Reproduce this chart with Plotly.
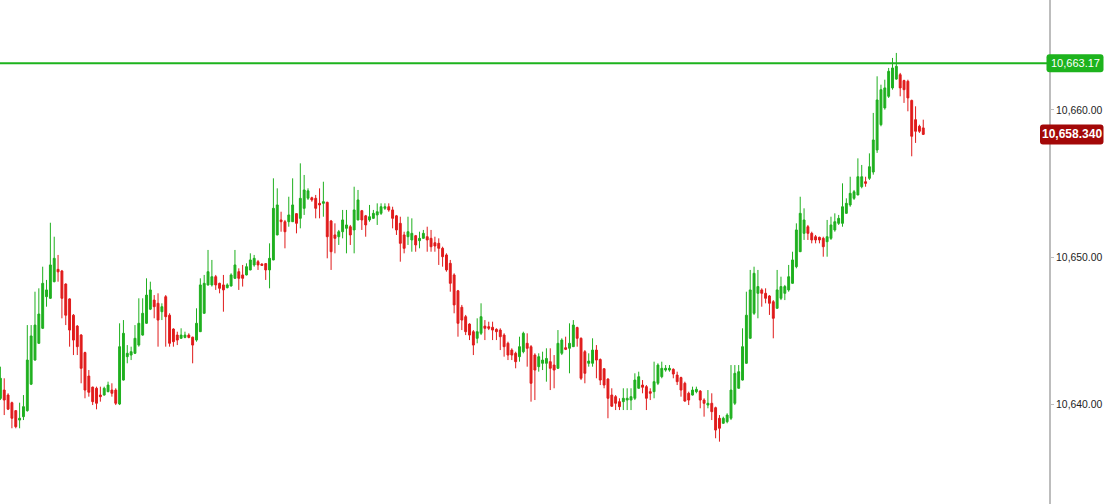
import plotly.graph_objects as go

# 캔들 데이터 (왼쪽부터 순서대로)
open_ = [
    10640.38, 10640.95, 10640.61, 10640.09, 10639.55, 10638.91, 10639.14, 10639.55, 10641.35, 10642.99,
    10644.13, 10645.15, 10647.30, 10647.19, 10648.32, 10649.16, 10649.05, 10648.16, 10647.15, 10646.04,
    10645.30, 10644.69, 10643.50, 10641.90, 10641.15, 10641.07, 10640.61, 10640.61, 10640.84, 10640.95,
    10640.95, 10640.00, 10641.63, 10643.22, 10643.33, 10643.45, 10644.01, 10644.69, 10645.49, 10646.45,
    10647.07, 10646.85, 10646.28, 10647.30, 10646.04, 10645.10, 10644.69, 10644.47, 10644.53, 10644.69,
    10644.55, 10644.35, 10644.92, 10646.17, 10648.10, 10648.10, 10648.66, 10648.21, 10648.10, 10647.91,
    10648.03, 10648.55, 10649.00, 10648.78, 10648.78, 10649.12, 10649.46, 10649.68, 10649.52, 10649.55,
    10649.12, 10649.80, 10651.50, 10652.52, 10652.40, 10652.40, 10652.40, 10652.95, 10652.63, 10653.31,
    10654.00, 10654.03, 10653.99, 10653.65, 10653.65, 10653.72, 10652.45, 10651.50, 10651.38, 10651.72,
    10651.95, 10652.06, 10651.84, 10652.52, 10653.15, 10652.80, 10652.52, 10652.63, 10652.86, 10652.97,
    10653.31, 10653.42, 10653.20, 10652.80, 10652.29, 10651.50, 10651.38, 10651.16, 10651.45, 10651.11,
    10651.27, 10651.38, 10651.27, 10650.97, 10650.93, 10650.59, 10650.14, 10649.57, 10648.78, 10647.70,
    10646.58, 10645.94, 10645.44, 10644.92, 10644.47, 10644.81, 10645.30, 10645.26, 10645.22, 10645.08,
    10645.03, 10644.69, 10644.13, 10643.67, 10643.45, 10643.22, 10643.56, 10644.13, 10643.90, 10643.33,
    10642.54, 10642.77, 10642.77, 10642.88, 10642.65, 10642.43, 10643.45, 10643.83, 10643.79, 10643.90,
    10645.20, 10644.47, 10643.56, 10642.77, 10642.77, 10643.67, 10643.03, 10642.40, 10641.70, 10640.61,
    10640.50, 10640.16, 10640.16, 10640.27, 10640.27, 10640.39, 10641.07, 10641.29, 10641.18, 10640.84,
    10640.84, 10641.41, 10641.86, 10642.31, 10642.31, 10642.36, 10641.97, 10641.80, 10641.41, 10640.73,
    10640.61, 10640.84, 10640.88, 10640.27, 10639.93, 10640.05, 10639.75, 10639.03, 10638.69, 10638.80,
    10639.03, 10640.05, 10641.07, 10641.63, 10642.77, 10644.47, 10646.17, 10647.53, 10647.76, 10647.53,
    10647.35, 10646.96, 10646.51, 10647.19, 10647.53, 10647.76, 10648.21, 10649.34, 10650.36, 10651.61,
    10652.06, 10651.61, 10651.38, 10651.34, 10651.27, 10651.04, 10651.27, 10651.84, 10652.29, 10652.29,
    10652.97, 10653.54, 10653.99, 10654.22, 10654.78, 10655.12, 10655.35, 10655.78, 10657.28, 10659.00,
    10660.14, 10660.93, 10661.50, 10662.10, 10662.40, 10662.00, 10661.95, 10660.65, 10659.34, 10658.89,
    10658.78,
]
high_ = [
    10642.54, 10641.75, 10640.73, 10640.16, 10639.59, 10640.09, 10640.61, 10645.37, 10645.37, 10647.64,
    10647.87, 10649.34, 10648.44, 10652.33, 10651.38, 10650.14, 10649.12, 10648.21, 10647.19, 10646.12,
    10645.37, 10644.76, 10643.56, 10642.31, 10641.18, 10641.18, 10641.18, 10641.18, 10641.52, 10641.41,
    10641.07, 10645.49, 10645.71, 10644.01, 10643.90, 10645.37, 10647.19, 10647.19, 10648.55, 10648.32,
    10647.41, 10647.53, 10646.85, 10647.41, 10646.17, 10645.15, 10644.92, 10645.15, 10644.92, 10644.81,
    10644.58, 10646.51, 10648.55, 10648.78, 10650.48, 10649.80, 10648.78, 10648.25, 10648.78, 10648.21,
    10648.89, 10650.48, 10649.23, 10649.46, 10649.57, 10650.25, 10650.14, 10649.80, 10649.57, 10649.57,
    10650.93, 10655.35, 10654.67, 10653.08, 10652.52, 10654.10, 10655.35, 10652.97, 10656.37, 10655.58,
    10654.67, 10654.10, 10654.22, 10654.67, 10655.12, 10653.76, 10652.52, 10652.29, 10651.84, 10653.20,
    10653.20, 10652.18, 10654.78, 10654.56, 10653.20, 10652.86, 10653.54, 10653.20, 10653.65, 10653.65,
    10653.65, 10653.65, 10653.42, 10652.86, 10652.74, 10651.72, 10652.74, 10652.63, 10651.50, 10651.72,
    10651.84, 10652.06, 10651.84, 10651.38, 10651.27, 10650.70, 10650.25, 10649.80, 10648.89, 10647.76,
    10646.74, 10646.06, 10645.49, 10645.03, 10645.83, 10646.85, 10645.71, 10645.60, 10645.60, 10645.15,
    10645.15, 10644.81, 10644.24, 10643.79, 10643.56, 10644.58, 10644.92, 10644.81, 10644.01, 10643.45,
    10643.45, 10643.56, 10643.79, 10643.79, 10643.33, 10645.03, 10644.47, 10644.58, 10645.49, 10645.71,
    10645.26, 10644.53, 10643.67, 10643.45, 10644.47, 10644.01, 10643.10, 10642.43, 10641.75, 10641.07,
    10640.61, 10640.39, 10641.07, 10641.07, 10641.07, 10642.09, 10642.20, 10641.63, 10641.29, 10641.07,
    10642.88, 10642.77, 10642.88, 10642.65, 10642.65, 10642.43, 10642.20, 10641.86, 10641.52, 10640.84,
    10641.18, 10641.18, 10640.95, 10640.39, 10640.95, 10640.73, 10639.82, 10639.25, 10639.14, 10639.37,
    10642.65, 10642.65, 10642.65, 10645.15, 10647.64, 10649.12, 10649.34, 10649.12, 10647.87, 10647.87,
    10647.41, 10647.07, 10649.12, 10648.66, 10648.10, 10649.46, 10650.36, 10652.29, 10654.10, 10653.31,
    10652.18, 10651.72, 10651.50, 10651.38, 10651.38, 10652.52, 10652.74, 10652.97, 10652.86, 10655.01,
    10653.99, 10655.46, 10654.56, 10656.71, 10656.26, 10655.46, 10657.05, 10659.80, 10662.29, 10661.72,
    10662.06, 10662.86, 10663.54, 10663.88, 10662.52, 10662.06, 10662.06, 10660.70, 10660.25, 10659.00,
    10659.34,
]
low_ = [
    10640.27, 10639.25, 10639.59, 10638.35, 10638.35, 10638.35, 10638.91, 10639.48, 10641.29, 10642.95,
    10644.10, 10645.10, 10646.62, 10647.15, 10648.28, 10648.32, 10645.83, 10645.37, 10643.90, 10643.33,
    10643.33, 10641.41, 10640.39, 10640.50, 10639.93, 10639.64, 10640.16, 10640.58, 10640.80, 10640.50,
    10639.93, 10639.93, 10641.60, 10642.77, 10642.99, 10643.40, 10643.90, 10644.65, 10645.45, 10646.39,
    10645.83, 10643.90, 10645.71, 10643.90, 10643.90, 10643.90, 10644.01, 10644.45, 10644.47, 10644.47,
    10642.77, 10644.24, 10644.90, 10646.15, 10648.05, 10647.99, 10647.76, 10647.53, 10646.28, 10647.87,
    10647.99, 10648.50, 10647.76, 10647.99, 10648.75, 10649.10, 10649.34, 10649.12, 10649.39, 10648.44,
    10647.87, 10649.78, 10651.48, 10651.72, 10650.59, 10652.06, 10652.38, 10651.61, 10651.95, 10652.86,
    10653.88, 10653.76, 10652.63, 10652.63, 10652.74, 10649.91, 10649.12, 10650.25, 10650.82, 10651.27,
    10650.25, 10650.82, 10650.25, 10652.50, 10651.84, 10651.38, 10652.40, 10652.60, 10652.18, 10652.86,
    10653.20, 10653.08, 10651.95, 10651.50, 10649.68, 10650.25, 10650.82, 10650.36, 10650.36, 10650.59,
    10651.25, 10650.36, 10650.36, 10650.36, 10649.46, 10649.34, 10649.00, 10647.64, 10646.17, 10644.58,
    10645.03, 10644.69, 10644.35, 10643.33, 10644.13, 10644.69, 10644.35, 10645.03, 10644.35, 10644.35,
    10643.67, 10643.22, 10642.99, 10642.99, 10642.43, 10642.88, 10643.45, 10642.54, 10640.16, 10640.27,
    10642.20, 10642.31, 10641.52, 10640.95, 10641.07, 10642.40, 10643.33, 10643.67, 10642.09, 10643.88,
    10643.90, 10641.63, 10641.41, 10642.54, 10642.54, 10641.75, 10641.29, 10641.07, 10639.03, 10639.80,
    10639.59, 10639.59, 10639.59, 10639.59, 10639.59, 10640.27, 10641.05, 10640.73, 10639.59, 10640.27,
    10640.39, 10641.29, 10641.75, 10642.20, 10642.20, 10641.75, 10641.29, 10640.50, 10640.16, 10639.93,
    10640.58, 10640.73, 10639.71, 10639.14, 10639.71, 10638.91, 10637.67, 10637.44, 10638.65, 10638.69,
    10638.91, 10639.93, 10641.05, 10641.60, 10642.75, 10644.45, 10646.06, 10645.83, 10646.62, 10646.85,
    10646.06, 10644.47, 10646.49, 10647.07, 10647.07, 10647.64, 10648.19, 10649.23, 10650.34, 10651.16,
    10651.16, 10650.93, 10650.93, 10650.93, 10650.02, 10650.02, 10651.16, 10651.72, 10652.18, 10652.06,
    10652.95, 10653.42, 10653.88, 10654.20, 10654.67, 10654.78, 10655.24, 10655.60, 10657.08, 10658.89,
    10660.02, 10660.82, 10661.38, 10662.06, 10660.93, 10660.48, 10659.91, 10656.85, 10657.76, 10658.44,
    10658.30,
]
close_ = [
    10641.75, 10640.27, 10639.65, 10639.03, 10638.46, 10639.03, 10639.82, 10642.99, 10644.63, 10645.37,
    10646.12, 10648.21, 10647.76, 10649.46, 10649.91, 10648.99, 10647.19, 10646.04, 10645.03, 10644.35,
    10643.90, 10642.43, 10640.95, 10640.80, 10640.16, 10640.05, 10640.50, 10641.07, 10641.29, 10640.73,
    10640.05, 10643.90, 10644.81, 10643.45, 10643.56, 10644.47, 10645.49, 10646.17, 10647.41, 10647.76,
    10646.62, 10645.71, 10646.62, 10645.94, 10644.13, 10644.24, 10644.35, 10644.69, 10644.69, 10644.53,
    10644.01, 10645.49, 10648.10, 10648.21, 10649.00, 10648.66, 10648.10, 10647.87, 10647.76, 10648.10,
    10648.78, 10649.46, 10648.55, 10648.55, 10649.34, 10649.80, 10649.91, 10649.46, 10649.43, 10649.12,
    10649.91, 10653.31, 10653.54, 10652.40, 10651.72, 10652.86, 10653.54, 10652.29, 10653.99, 10654.56,
    10654.50, 10653.88, 10653.31, 10653.54, 10653.76, 10651.38, 10650.36, 10651.27, 10651.72, 10652.52,
    10652.18, 10651.50, 10653.20, 10653.88, 10652.52, 10652.18, 10652.74, 10652.97, 10653.08, 10653.42,
    10653.42, 10653.20, 10652.63, 10651.84, 10650.93, 10650.59, 10651.72, 10651.61, 10650.82, 10651.27,
    10651.61, 10651.16, 10650.70, 10650.75, 10650.59, 10650.02, 10649.12, 10648.21, 10646.74, 10645.49,
    10645.71, 10644.92, 10644.69, 10644.01, 10644.92, 10645.94, 10645.15, 10645.15, 10645.03, 10644.92,
    10644.58, 10643.90, 10643.33, 10643.33, 10642.88, 10643.90, 10644.81, 10643.79, 10641.41, 10642.31,
    10643.22, 10642.99, 10643.10, 10642.43, 10642.31, 10644.13, 10644.35, 10643.72, 10644.13, 10645.37,
    10644.47, 10641.75, 10642.09, 10642.92, 10643.67, 10642.99, 10641.63, 10641.29, 10640.39, 10639.85,
    10640.05, 10639.82, 10640.39, 10640.39, 10640.50, 10641.63, 10641.86, 10641.14, 10640.39, 10640.73,
    10641.52, 10642.65, 10642.43, 10642.43, 10642.43, 10642.04, 10641.52, 10640.95, 10640.20, 10640.27,
    10640.95, 10641.00, 10640.27, 10640.05, 10640.05, 10639.48, 10638.23, 10638.35, 10639.03, 10639.25,
    10640.95, 10642.09, 10642.20, 10643.90, 10646.04, 10647.76, 10648.89, 10647.99, 10647.53, 10647.19,
    10646.85, 10645.83, 10647.76, 10647.99, 10647.99, 10648.66, 10649.80, 10651.84, 10652.97, 10652.52,
    10651.61, 10651.16, 10651.16, 10651.16, 10650.70, 10651.38, 10652.18, 10652.40, 10652.63, 10653.42,
    10653.65, 10654.33, 10654.44, 10655.46, 10655.46, 10655.01, 10656.14, 10657.96, 10660.68, 10661.38,
    10661.50, 10662.63, 10662.86, 10662.97, 10661.50, 10661.38, 10660.82, 10658.21, 10658.55, 10658.55,
    10658.34,
]

# 수평선 레벨과 축 눈금
level = 10663.17
tick_values = [10640, 10650, 10660]

green = '#1fb01f'
red = '#e01b1b'

x = list(range(len(close_)))

fig = go.Figure(go.Candlestick(
    x=x, open=open_, high=high_, low=low_, close=close_,
    increasing=dict(line=dict(color=green, width=1), fillcolor=green),
    decreasing=dict(line=dict(color=red, width=1), fillcolor=red),
    whiskerwidth=0, hoverinfo='skip',
))

y_lo, y_hi = 10633.2, 10667.48
px_per_unit = 504 / (y_hi - y_lo)
plot_w = 1105 - 56


def rounded_box(x0_px, x1_px, yc, h_px, r_px=3):
    # 픽셀 기준 크기를 paper/y 좌표로 바꿔서 둥근 사각형 path 생성
    x0, x1 = x0_px / plot_w, x1_px / plot_w
    y0, y1 = yc - h_px / 2 / px_per_unit, yc + h_px / 2 / px_per_unit
    rx, ry = r_px / plot_w, r_px / px_per_unit
    return (f"M {x0 + rx},{y0} L {x1 - rx},{y0} Q {x1},{y0} {x1},{y0 + ry} "
            f"L {x1},{y1 - ry} Q {x1},{y1} {x1 - rx},{y1} L {x0 + rx},{y1} "
            f"Q {x0},{y1} {x0},{y1 - ry} L {x0},{y0 + ry} Q {x0},{y0} {x0 + rx},{y0} Z")


shapes = [
    dict(type='line', xref='paper', yref='y', x0=0, x1=1, y0=level, y1=level,
         line=dict(color='#1db31d', width=2)),
    dict(type='path', xref='paper', yref='y', path=rounded_box(1046.5, 1103.5, level, 18),
         fillcolor='#1db31d', line=dict(width=0), layer='above'),
    dict(type='path', xref='paper', yref='y', path=rounded_box(1040, 1103.5, close_[-1], 20),
         fillcolor='#a30808', line=dict(width=0), layer='above'),
]

annotations = [
    dict(xref='paper', yref='y', x=(1046.5 + 1103.5) / 2 / plot_w, y=level,
         xanchor='center', yanchor='middle',
         text=f"{level:,.2f}", showarrow=False,
         font=dict(color='white', size=11, family='Liberation Sans, Arial')),
    dict(xref='paper', yref='y', x=(1040 + 1103.5) / 2 / plot_w, y=close_[-1],
         xanchor='center', yanchor='middle',
         text=f"<b>{close_[-1]:,.3f}</b>", showarrow=False,
         font=dict(color='white', size=12, family='Liberation Sans, Arial')),
]

fig.update_layout(
    width=1105, height=504,
    margin=dict(l=0, r=56, t=0, b=0),
    paper_bgcolor='white', plot_bgcolor='white',
    showlegend=False,
    shapes=shapes, annotations=annotations,
    xaxis=dict(visible=False, rangeslider=dict(visible=False), range=[-0.1, 272.7]),
    yaxis=dict(side='right', range=[y_lo, y_hi], tickvals=tick_values, tickformat=',.2f',
               showgrid=False, zeroline=False, showline=True, linecolor='#bdbdbd', linewidth=2,
               ticks='outside', ticklen=3, tickcolor='#bdbdbd',
               tickfont=dict(size=10.4, color='#222222', family='Liberation Sans, Arial')),
)

# 페이지 기본 여백 제거
fig.write_html("out.html", config={'displayModeBar': False},
               post_script="document.body.style.margin='0';document.body.style.overflow='hidden';")
